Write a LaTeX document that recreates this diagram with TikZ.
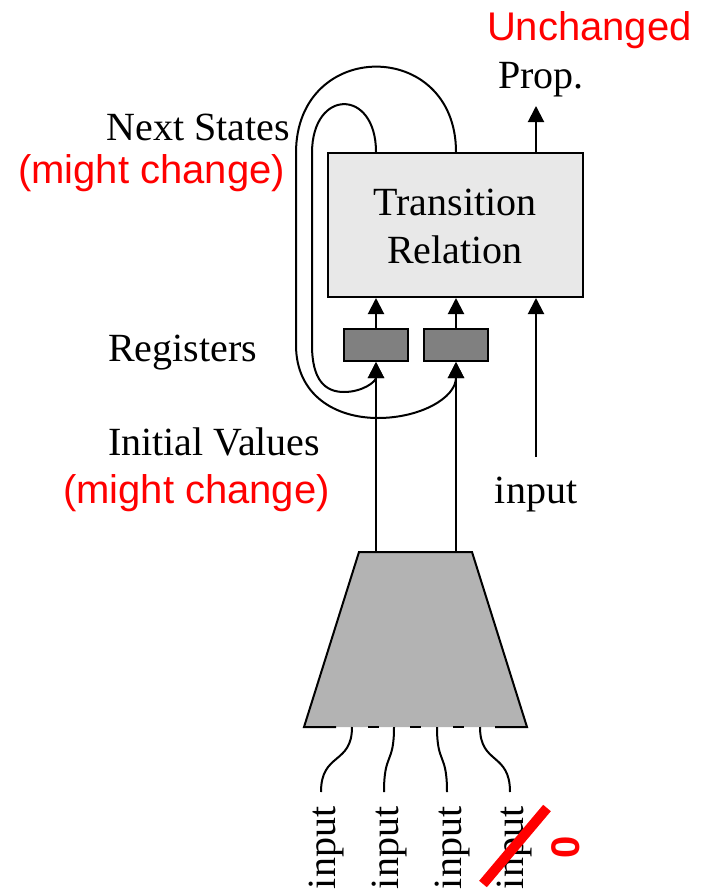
\documentclass[tikz,border=0pt]{standalone}
\usepackage{fontspec}
\setmainfont{Liberation Serif}
\setsansfont{Liberation Sans}
\usetikzlibrary{arrows.meta}
\definecolor{boxgray}{HTML}{E8E8E8}
\definecolor{reggray}{HTML}{808080}
\definecolor{trapgray}{HTML}{B3B3B3}
\begin{document}
\begin{tikzpicture}[x=1pt,y=-1pt,line width=2pt,
  lbl/.style={font=\fontsize{40}{46}\selectfont, inner sep=0pt},
  redlbl/.style={font=\sffamily\fontsize{40}{46}\selectfont, text=red, inner sep=0pt},
  arr/.style={-{Triangle[width=16pt,length=16pt]}},
  trbox/.style={draw, fill=boxgray, minimum width=255pt, minimum height=144pt, inner sep=0pt},
  regbox/.style={draw, fill=reggray, minimum width=64pt, minimum height=32pt, inner sep=0pt}]
\useasboundingbox (0,0) rectangle (702,894);

% transition relation
\node[trbox] (tr) at (455.5,225) {};
\node[lbl, anchor=base] (trt1) at (455,215) {Transition};
\node[lbl, anchor=base] (trt2) at (455,263) {Relation};

% registers
\node[regbox] (r1) at (376,345) {};
\node[regbox] (r2) at (456,345) {};
\draw[arr] (r1.north) -- (r1.north |- tr.south);
\draw[arr] (r2.north) -- (r2.north |- tr.south);

% input arrow
\coordinate (inp) at (536,457);
\draw[arr] (inp) -- (inp |- tr.south);
\node[lbl, anchor=base] (inlbl) at (536,503) {input};

% property arrow
\coordinate (proptip) at (536,106);
\draw[arr] (proptip |- tr.north) -- (proptip);
\node[lbl, anchor=base west] (prop) at (497,88) {Prop.};
\node[redlbl, anchor=base west] (unch) at (486,40) {Unchanged};

% feedback loops
\draw[arr] (r1.north |- tr.north) .. controls (376,88) and (312,88) .. (312,153)
   -- (312,345) .. controls (312,380) and (325,392) .. (344,392)
   .. controls (362,392) and (376,382) .. (r1.south);
\draw[arr] (r2.north |- tr.north) .. controls (456,38) and (296,38) .. (296,153)
   -- (296,345) .. controls (296,395) and (335,418) .. (378,418)
   .. controls (420,418) and (456,398) .. (r2.south);

% trapezoid
\coordinate (tzTL) at (359,552);
\coordinate (tzTR) at (472,552);
\coordinate (tzBR) at (527,727);
\coordinate (tzBL) at (304,727);
\fill[trapgray] (tzBL) -- (tzTL) -- (tzTR) -- (tzBR) -- cycle;
\draw[line join=miter] (336,727) -- (tzBL) -- (tzTL) -- (tzTR) -- (tzBR) -- (495,727);
\draw (368,727) -- (379,727);
\draw (410,727) -- (421,727);
\draw (453,727) -- (464,727);

\draw[arr] (r1.south |- tzTL) -- (r1.south);
\draw[arr] (r2.south |- tzTL) -- (r2.south);

% bottom wires
\coordinate (w1) at (352,727); \coordinate (e1) at (321,792);
\coordinate (w2) at (394,727); \coordinate (e2) at (384,792);
\coordinate (w3) at (437,727); \coordinate (e3) at (447,792);
\coordinate (w4) at (480,727); \coordinate (e4) at (510,792);
\draw (w1) .. controls (352,765) and (321,752) .. (e1);
\draw (w2) .. controls (394,765) and (384,752) .. (e2);
\draw (w3) .. controls (437,765) and (447,752) .. (e3);
\draw (w4) .. controls (480,765) and (510,752) .. (e4);

\node[lbl, rotate=90, anchor=base west] (in1) at (335,890) {input};
\node[lbl, rotate=90, anchor=base west] (in2) at (398,890) {input};
\node[lbl, rotate=90, anchor=base west] (in3) at (461,890) {input};
\node[lbl, rotate=90, anchor=base west] (in4) at (523,890) {input};
\draw[red, line width=10pt] (483,884) -- (547,808);
\node[font=\sffamily\bfseries\fontsize{40}{46}\selectfont, text=red, rotate=90, inner sep=0pt] (zero) at (566,847) {0};

% left labels
\node[lbl, anchor=base east] (ns) at (291,140) {Next States};
\node[redlbl, anchor=base east] (mc1) at (286,183) {(might change)};
\node[lbl, anchor=base west] (regl) at (107,361) {Registers};
\node[lbl, anchor=base west] (iv) at (107,455) {Initial Values};
\node[redlbl, anchor=base west] (mc2) at (62,503) {(might change)};
\end{tikzpicture}
\end{document}
